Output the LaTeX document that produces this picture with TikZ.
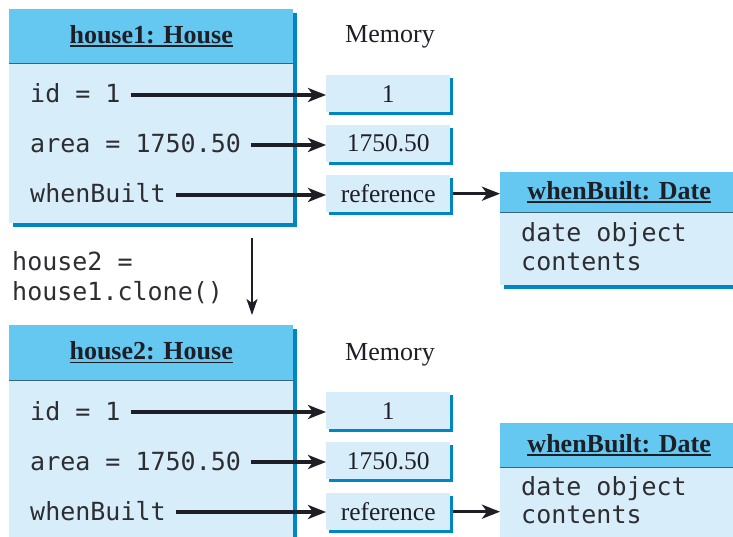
\documentclass[tikz,border=0pt]{standalone}
\usepackage{fontspec}
\setmainfont{Liberation Serif}
\newfontfamily\monof{DejaVu Sans Mono}
\usetikzlibrary{arrows.meta,shadows}
\definecolor{hdr}{RGB}{100,200,240}
\definecolor{bdy}{RGB}{215,238,250}
\definecolor{shd}{RGB}{0,135,195}
\definecolor{divl}{RGB}{55,100,130}
\definecolor{ink}{RGB}{30,30,38}
\definecolor{monoink}{RGB}{45,45,50}
\newcommand\ulbox[1]{\setbox0\hbox{#1}\rlap{\color{ink}\rule[-3.5pt]{\wd0}{1.5pt}}\box0}
\begin{document}
\begin{tikzpicture}[x=1pt,y=-1pt,
  mono/.style={font=\monof\fontsize{25}{30}\selectfont, text=monoink, inner sep=0pt,
    text height=16pt, text depth=0pt, anchor=base west},
  shad/.style={general shadow={fill=shd, shadow xshift=4pt, shadow yshift=-4pt}},
  hdrbox/.style={shad, fill=hdr, draw=none, anchor=north west, inner sep=0pt,
    font=\bfseries\fontsize{26}{30}\selectfont, text=ink},
  bdybox/.style={shad, fill=bdy, draw=none, anchor=north west, inner sep=0pt},
  memlabel/.style={font=\fontsize{26}{30}\selectfont, text=ink, inner sep=0pt},
  membox/.style={general shadow={fill=shd, shadow xshift=3pt, shadow yshift=-3pt},
    fill=bdy, draw=none, anchor=north west, inner sep=0pt,
    minimum width=124pt, minimum height=37pt,
    font=\fontsize{25.5}{30}\selectfont, text=ink},
  divider/.style={draw=divl, line width=1pt},
  arr/.style={draw=ink, line width=3.2pt, -{Stealth[length=18pt,width=14pt,inset=5pt]}},
  varr/.style={draw=ink, line width=2pt, -{Stealth[length=16pt,width=11pt,inset=4pt]}}
]
\useasboundingbox[fill=white] (0,0) rectangle (733,537);

% ---------- house1 ----------
\node[hdrbox, minimum width=284pt, minimum height=54pt] (h1head) at (9,9) {\ulbox{house1: House}};
\node[bdybox, minimum width=284pt, minimum height=160pt] (h1body) at (9,63) {};
\draw[divider] (h1head.south west) -- (h1head.south east);
\node[mono] (h1id) at (30,103) {id = 1};
\node[mono] (h1area) at (30,153) {area = 1750.50};
\node[mono] (h1wb) at (30,203) {whenBuilt};

\node[memlabel] (mem1) at (390,37) {Memory};
\node[membox] (m1a) at (326,75) {1};
\node[membox] (m1b) at (326,125) {1750.50};
\node[membox] (m1c) at (326,175) {reference};

\node[hdrbox, minimum width=238pt, minimum height=40pt] (d1head) at (500,172) {\ulbox{whenBuilt: Date}};
\node[bdybox, minimum width=238pt, minimum height=73pt] (d1body) at (500,212) {};
\draw[divider] (d1head.south west) -- (d1head.south east);
\node[mono] (d1t1) at (521,242) {date object};
\node[mono] (d1t2) at (521,270) {contents};

\draw[arr, shorten <=10pt] (h1id.east) -- (h1id.east -| m1a.west);
\draw[arr, shorten <=10pt] (h1area.east) -- (h1area.east -| m1b.west);
\draw[arr, shorten <=10pt] (h1wb.east) -- (h1wb.east -| m1c.west);
\draw[arr, shorten <=3pt] (m1c.east) -- (m1c.east -| d1head.west);

% ---------- clone ----------
\node[mono] (cl1) at (12,270) {house2 =};
\node[mono] (cl2) at (12,300) {house1.clone()};

% ---------- house2 ----------
\node[hdrbox, minimum width=284pt, minimum height=55pt] (h2head) at (9,325) {\ulbox{house2: House}};
\node[bdybox, minimum width=284pt, minimum height=175pt] (h2body) at (9,380) {};
\draw[divider] (h2head.south west) -- (h2head.south east);
\node[mono] (h2id) at (30,420) {id = 1};
\node[mono] (h2area) at (30,470) {area = 1750.50};
\node[mono] (h2wb) at (30,520) {whenBuilt};

\coordinate (vtop) at (252,238);
\draw[varr, shorten >=10pt] (vtop) -- (vtop |- h2head.north);

\node[memlabel] (mem2) at (390,355) {Memory};
\node[membox] (m2a) at (326,392) {1};
\node[membox] (m2b) at (326,442) {1750.50};
\node[membox] (m2c) at (326,493) {reference};

\node[hdrbox, minimum width=238pt, minimum height=44pt] (d2head) at (500,423) {\ulbox{whenBuilt: Date}};
\node[bdybox, minimum width=238pt, minimum height=100pt] (d2body) at (500,467) {};
\draw[divider] (d2head.south west) -- (d2head.south east);
\node[mono] (d2t1) at (521,495) {date object};
\node[mono] (d2t2) at (521,523) {contents};

\draw[arr, shorten <=10pt] (h2id.east) -- (h2id.east -| m2a.west);
\draw[arr, shorten <=10pt] (h2area.east) -- (h2area.east -| m2b.west);
\draw[arr, shorten <=10pt] (h2wb.east) -- (h2wb.east -| m2c.west);
\draw[arr, shorten <=3pt] (m2c.east) -- (m2c.east -| d2head.west);
\end{tikzpicture}
\end{document}
